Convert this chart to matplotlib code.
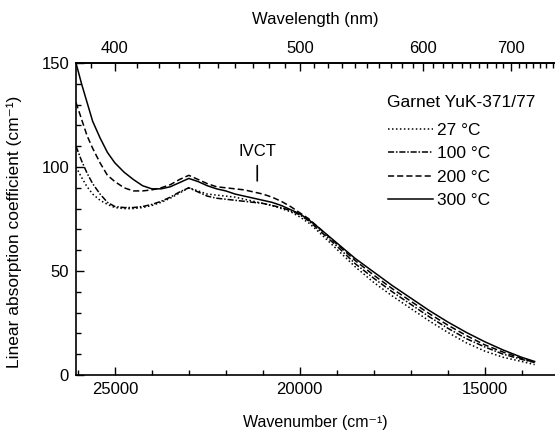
import numpy as np
import matplotlib
matplotlib.use("Agg")
import matplotlib.pyplot as plt

plt.rcParams['font.family'] = ['Liberation Sans', 'DejaVu Sans']
plt.rcParams['font.size'] = 12

# wavenumber grid (cm-1)
wn = [26050, 25900, 25750, 25600, 25400, 25200, 25000, 24750, 24500, 24250,
      24000, 23750, 23500, 23250, 23000, 22750, 22500, 22250, 22000, 21750,
      21500, 21250, 21000, 20750, 20500, 20250, 20000, 19750, 19500, 19000,
      18500, 18000, 17500, 17000, 16500, 16000, 15500, 15000, 14500, 14000,
      13650]

t27 = [100, 95, 90.5, 87, 84, 82, 80.5, 80, 80, 80.5,
       81.5, 83, 85, 87.5, 90, 88.5, 87, 86.5, 86, 85.5,
       84.5, 83.5, 82.5, 81.5, 80, 78.5, 76, 73, 69, 60.5,
       52, 44.5, 38, 32, 26, 20.5, 15.5, 11.5, 8.5, 6.5,
       5]
t100 = [110, 103, 97, 92, 87, 83, 81, 80.5, 80.5, 81,
        82, 83.5, 85.5, 88, 90, 88, 86, 85, 84.5, 84,
        83.5, 83, 82.5, 81.5, 80.5, 79, 77, 74, 70, 62,
        53.5, 46.5, 40, 34, 28, 22.5, 17.5, 13.5, 10, 7.5,
        6]
t200 = [131, 123, 115, 109, 102, 96, 93, 90, 88.5, 88.5,
        89, 90, 91.5, 94, 96, 94, 92, 90.5, 90, 89.5,
        89, 88, 87, 85.5, 83.5, 81, 78, 75, 71, 63,
        55, 48, 41.5, 35.5, 29.5, 24, 19, 14.5, 11, 8,
        6]
t300 = [150, 140, 131, 122, 114, 107, 102, 97.5, 94, 91,
        89.5, 89.5, 90.5, 92.5, 94.5, 93, 91, 89.5, 88.5, 87,
        86, 85, 84, 83, 81.5, 79.5, 77.5, 74.5, 71, 63.5,
        56, 49.5, 43, 37, 31, 25.5, 20.5, 16, 12, 8.5,
        6.5]

labels = ['27 °C', '100 °C', '200 °C', '300 °C']
styles = [(0, (1, 1.6)), (0, (4, 1.2, 1, 1.2)), (0, (4, 2)), '-']
legend_title = 'Garnet YuK-371/77'

ivct_wn = 21150
ivct_top = 102
ivct_bottom = 92
ivct_text_y = 104

fig = plt.figure(figsize=(5.55, 4.38), dpi=100)
ax = fig.add_axes([76 / 555, 1 - 375 / 438, 1 - 76 / 555, (375 - 63) / 438])

for y, lab, ls in zip([t27, t100, t200, t300], labels, styles):
    ax.plot(wn, y, color='black', linestyle=ls, linewidth=1.1, label=lab)

ax.set_xlim(26050, 13100)
ax.set_ylim(0, 150)
ax.set_xticks([25000, 20000, 15000])
ax.set_xticks(np.arange(14000, 26001, 1000), minor=True)
ax.set_yticks([0, 50, 100, 150])
ax.set_yticks(np.arange(0, 151, 10), minor=True)
ax.tick_params(which='both', direction='in', width=1)
ax.tick_params(which='major', length=6, labelsize=12, pad=5)
ax.tick_params(which='minor', length=3.5)
ax.spines['right'].set_visible(False)
for s in ['left', 'bottom', 'top']:
    ax.spines[s].set_linewidth(1.2)

ax.set_xlabel('Wavenumber (cm⁻¹)', fontsize=11.5, labelpad=13)
ax.set_ylabel('Linear absorption coefficient (cm⁻¹)', fontsize=12.5)
ax.yaxis.set_label_coords(-0.112, 0.46)

top = ax.secondary_xaxis('top', functions=(lambda x: 1e7 / x, lambda x: 1e7 / x))
top.set_xticks([400, 500, 600, 700])
top.set_xticks(np.arange(390, 770, 10), minor=True)
top.tick_params(which='both', direction='in', width=1)
top.tick_params(which='major', length=6, labelsize=12, pad=5)
top.tick_params(which='minor', length=3.5)
top.spines['top'].set_linewidth(1.2)
top.set_xlabel('Wavelength (nm)', fontsize=12, labelpad=12)

ax.annotate('', xy=(ivct_wn, ivct_bottom), xytext=(ivct_wn, ivct_top),
            arrowprops=dict(arrowstyle='-', color='black', lw=1.2))
ax.text(ivct_wn, ivct_text_y, 'IVCT', ha='center', va='bottom', fontsize=12)

ax.text(0.649, 0.872, legend_title, transform=ax.transAxes,
        ha='left', va='center', fontsize=12.5)
leg = ax.legend(loc='upper left', bbox_to_anchor=(0.633, 0.835),
                frameon=False, fontsize=12.5, handlelength=2.6,
                handletextpad=0.25, labelspacing=0.46, borderpad=0)

fig.savefig('out.png', dpi=100)
